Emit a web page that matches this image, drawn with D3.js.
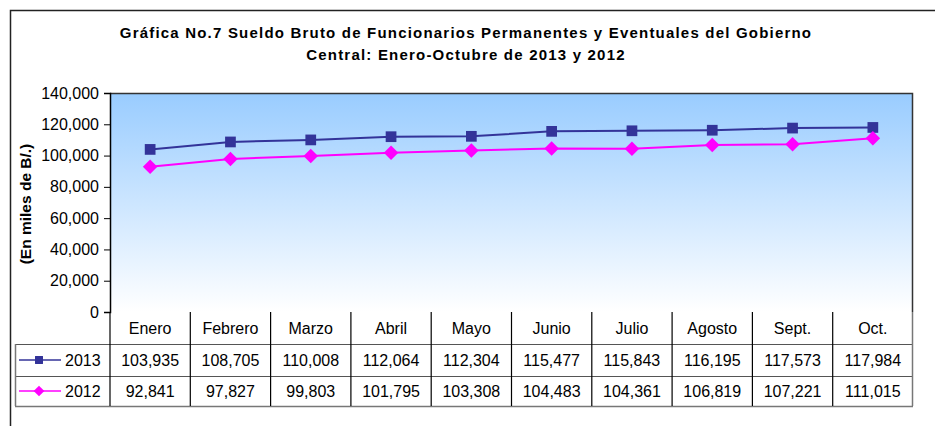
<!DOCTYPE html>
<html>
<head>
<meta charset="utf-8">
<script src="https://cdn.jsdelivr.net/npm/d3@7"></script>
<style>
  body { margin: 0; background: #fff; }
  svg { display: block; font-family: "Liberation Sans", Arial, sans-serif; }
</style>
</head>
<body>
<svg width="935" height="426"></svg>
<script>
// data
const months = ["Enero", "Febrero", "Marzo", "Abril", "Mayo", "Junio", "Julio", "Agosto", "Sept.", "Oct."];
const values2013 = [103935, 108705, 110008, 112064, 112304, 115477, 115843, 116195, 117573, 117984];
const values2012 = [92841, 97827, 99803, 101795, 103308, 104483, 104361, 106819, 107221, 111015];
const yTicks = [0, 20000, 40000, 60000, 80000, 100000, 120000, 140000];

const svg = d3.select("svg");

// outer frame
svg.append("rect")
  .attr("x", 10.5).attr("y", 10.5)
  .attr("width", 940).attr("height", 430)
  .attr("fill", "none").attr("stroke", "#222").attr("stroke-width", 1.5);

// title
const title = svg.append("text")
  .attr("text-anchor", "middle")
  .attr("font-weight", "bold")
  .attr("font-size", 15)
  .attr("letter-spacing", 1.2);
title.append("tspan").attr("x", 466).attr("y", 38)
  .text("Gráfica No.7 Sueldo Bruto de Funcionarios Permanentes y Eventuales del Gobierno");
title.append("tspan").attr("x", 466).attr("y", 60)
  .text("Central: Enero-Octubre de 2013 y 2012");

const plotLeft = 110, plotRight = 913, plotTop = 93, plotBottom = 312;

const x = d3.scaleBand().domain(months).range([plotLeft, plotRight]);
const y = d3.scaleLinear().domain([0, 140000]).range([plotBottom, plotTop]);

// background gradient
const defs = svg.append("defs");
const grad = defs.append("linearGradient")
  .attr("id", "bg").attr("x1", 0).attr("y1", 0).attr("x2", 0).attr("y2", 1);
grad.append("stop").attr("offset", "0%").attr("stop-color", "#99ccff");
grad.append("stop").attr("offset", "100%").attr("stop-color", "#ffffff");

svg.append("rect")
  .attr("x", plotLeft).attr("y", plotTop)
  .attr("width", plotRight - plotLeft).attr("height", plotBottom - plotTop)
  .attr("fill", "url(#bg)");

// top and right plot border
svg.append("path")
  .attr("d", `M${plotLeft},${plotTop + 0.5}H${plotRight - 0.5}V${plotBottom}`)
  .attr("fill", "none").attr("stroke", "#333").attr("stroke-width", 1.5);

// y axis
const yAxis = svg.append("g")
  .attr("transform", `translate(${plotLeft},0)`)
  .call(d3.axisLeft(y).tickValues(yTicks).tickSize(6).tickPadding(5)
    .tickFormat(d3.format(",")));
yAxis.selectAll("text").attr("font-size", 16).attr("fill", "#000")
  .attr("font-family", "Liberation Sans, Arial, sans-serif");
yAxis.selectAll("line").attr("stroke", "#000");
yAxis.select(".domain").attr("stroke", "#000").attr("stroke-width", 1.5);

svg.append("text")
  .attr("transform", `translate(31,${204}) rotate(-90)`)
  .attr("text-anchor", "middle")
  .attr("font-weight", "bold")
  .attr("font-size", 15.5)
  .text("(En miles de B/.)");

// lines and markers (diamond = square turned 45 degrees)
const cx = d => x(d) + x.bandwidth() / 2;
const series = [
  { values: values2013, color: "#333399", size: 115, rot: 0, label: "2013" },
  { values: values2012, color: "#ff00ff", size: 105, rot: 45, label: "2012" }
];

series.forEach(s => {
  const line = d3.line().x((d, i) => cx(months[i])).y(d => y(d));
  svg.append("path")
    .datum(s.values)
    .attr("d", line)
    .attr("fill", "none")
    .attr("stroke", s.color)
    .attr("stroke-width", 2);
  svg.selectAll(null)
    .data(s.values)
    .enter()
    .append("path")
    .attr("d", d3.symbol().type(d3.symbolSquare).size(s.size))
    .attr("transform", (d, i) => `translate(${cx(months[i])},${y(d)}) rotate(${s.rot})`)
    .attr("fill", s.color);
});

// data table
const headTop = plotBottom, legLeft = 15;
const rowTops = [344, 376];
const tableBottom = 406;
const tbl = svg.append("g").attr("font-size", 16).attr("text-anchor", "middle");

// header labels
tbl.selectAll(".hd")
  .data(months)
  .enter()
  .append("text")
  .attr("x", d => cx(d))
  .attr("y", 334)
  .text(d => d);

// horizontal lines
rowTops.forEach(yy => {
  tbl.append("line")
    .attr("x1", legLeft).attr("x2", plotRight)
    .attr("y1", yy + 0.5).attr("y2", yy + 0.5)
    .attr("stroke", "#555").attr("stroke-width", 1.2);
});
tbl.append("line")
  .attr("x1", legLeft).attr("x2", plotRight)
  .attr("y1", tableBottom + 0.5).attr("y2", tableBottom + 0.5)
  .attr("stroke", "#777").attr("stroke-width", 1.5);

// vertical lines
const bounds = months.map(m => x(m)).concat([plotRight]);
bounds.forEach((bx, i) => {
  const last = i === bounds.length - 1;
  tbl.append("line")
    .attr("x1", bx - (last ? 0.5 : 0))
    .attr("x2", bx - (last ? 0.5 : 0))
    .attr("y1", headTop).attr("y2", tableBottom)
    .attr("stroke", last ? "#777" : "#000")
    .attr("stroke-width", last ? 1.5 : 1.2);
});
tbl.append("line")
  .attr("x1", legLeft + 0.5).attr("x2", legLeft + 0.5)
  .attr("y1", rowTops[0]).attr("y2", tableBottom)
  .attr("stroke", "#777").attr("stroke-width", 1.5);

// value cells and legend keys
series.forEach((s, r) => {
  const ty = rowTops[r];
  const h = (r === 0 ? rowTops[1] : tableBottom) - ty;
  tbl.selectAll(null)
    .data(s.values)
    .enter()
    .append("text")
    .attr("x", (d, i) => cx(months[i]))
    .attr("y", ty + h / 2 + 6)
    .text(d => d3.format(",")(d));

  const my = ty + h / 2;
  tbl.append("line")
    .attr("x1", 19).attr("x2", 61)
    .attr("y1", my).attr("y2", my)
    .attr("stroke", s.color).attr("stroke-width", 1.5);
  tbl.append("path")
    .attr("d", d3.symbol().type(d3.symbolSquare).size(s.size * 0.55))
    .attr("transform", `translate(39,${my}) rotate(${s.rot})`)
    .attr("fill", s.color);
  tbl.append("text")
    .attr("x", 65)
    .attr("y", my + 6)
    .attr("text-anchor", "start")
    .text(s.label);
});
</script>
</body>
</html>
